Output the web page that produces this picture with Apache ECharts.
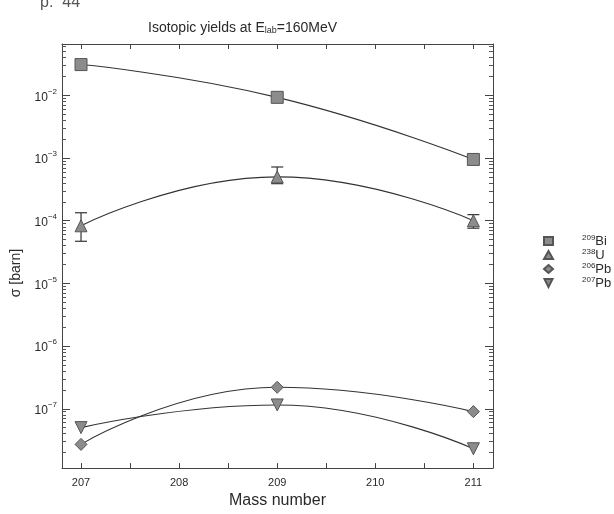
<!DOCTYPE html>
<html>
<head>
<meta charset="utf-8">
<script src="https://cdn.jsdelivr.net/npm/echarts@6/dist/echarts.min.js"></script>
<style>html,body{margin:0;padding:0;background:#fff}#c{width:614px;height:514px}</style>
</head>
<body>
<div id="c"></div>
<script>
// ---- data ----
const massNumbers = [207, 209, 211];
const bi209 = [0.031, 0.0093, 0.00095];
const u238 = [8.3e-5, 5.0e-4, 1.0e-4];
const u238Low = [4.7e-5, 3.9e-4, 7.6e-5];
const u238High = [1.34e-4, 7.2e-4, 1.25e-4];
const pb206 = [2.7e-8, 2.2e-7, 9.0e-8];
const pb207 = [5.0e-8, 1.15e-7, 2.3e-8];
const xTickValues = [207, 207.5, 208, 208.5, 209, 209.5, 210, 210.5, 211];
const xLabelValues = [207, 208, 209, 210, 211];
const decadeExponents = [-8, -7, -6, -5, -4, -3, -2, -1];
const minorMultipliers = [2, 3, 4, 5, 6, 7, 8, 9];
const seriesNames = ['209Bi', '238U', '206Pb', '207Pb'];
const legendParts = {'209Bi': ['209', 'Bi'], '238U': ['238', 'U'], '206Pb': ['206', 'Pb'], '207Pb': ['207', 'Pb']};

const Y_MIN = 1.13e-8, Y_MAX = 0.066;
const LMIN = Math.log10(Y_MIN), LMAX = Math.log10(Y_MAX);
const majorLog = decadeExponents.filter(e => e >= LMIN && e <= LMAX);
const minorLog = [];
decadeExponents.forEach(e => minorMultipliers.forEach(m => {
  const v = e + Math.log10(m);
  if (v >= LMIN && v <= LMAX) minorLog.push(v);
}));

const FONT = 'Liberation Sans';
const INK = '#2a2a2a';
const LINE = '#333';
const MARK_FILL = '#8c8c8c';
const MARK_BORDER = '#555';

function pair(xs, ys) { return xs.map((x, i) => [x, ys[i]]); }

const chart = echarts.init(document.getElementById('c'), null, {renderer: 'canvas'});

const frameLine = {show: true, lineStyle: {color: '#444', width: 1}};

const option = {
  backgroundColor: '#fff',
  animation: false,
  textStyle: {fontFamily: FONT},
  title: {
    text: '{a|Isotopic yields at E}{b|lab}{a|=160MeV}',
    left: 143, top: 14,
    textStyle: {
      fontWeight: 'normal',
      rich: {
        a: {fontFamily: FONT, fontSize: 14, fontWeight: 'normal', color: INK, lineHeight: 16, verticalAlign: 'bottom'},
        b: {fontFamily: FONT, fontSize: 9, fontWeight: 'normal', color: INK, lineHeight: 12, verticalAlign: 'bottom', padding: [6, 0, 0, 0]}
      }
    }
  },
  graphic: [{
    type: 'text', left: 40, top: -5,
    style: {text: 'p.  44', fontFamily: FONT, fontSize: 16, fill: '#555'}
  }],
  grid: {left: 62, right: 121, top: 44, bottom: 41},
  legend: {
    orient: 'vertical', left: 543, top: 234,
    itemWidth: 9, itemHeight: 8, itemGap: 0, padding: 0,
    data: [
      {name: '209Bi', icon: 'rect'},
      {name: '238U', icon: 'triangle'},
      {name: '206Pb', icon: 'diamond'},
      {name: '207Pb', icon: 'path://M0,0 L10,0 L5,10 Z'}
    ],
    formatter: function (name) {
      const p = legendParts[name];
      return '{s|' + p[0] + '}{m|' + p[1] + '}';
    },
    textStyle: {
      rich: {
        s: {fontFamily: FONT, fontSize: 8, color: INK, lineHeight: 14, verticalAlign: 'top', padding: [0, 0, 0, 24]},
        m: {fontFamily: FONT, fontSize: 13, color: INK, lineHeight: 14, verticalAlign: 'bottom'}
      }
    }
  },
  xAxis: [{
    type: 'value', position: 'bottom', min: 206.806, max: 211.2,
    axisLine: frameLine,
    splitLine: {show: false},
    axisTick: {show: true, inside: true, length: 5, customValues: xTickValues, lineStyle: {color: '#444'}},
    axisLabel: {show: true, customValues: xLabelValues, margin: 9, fontFamily: FONT, fontSize: 11, color: INK},
    name: 'Mass number', nameLocation: 'middle', nameGap: 20,
    nameTextStyle: {fontFamily: FONT, fontSize: 16, color: INK}
  }, {
    type: 'value', position: 'top', min: 206.806, max: 211.2,
    axisLine: frameLine,
    splitLine: {show: false},
    axisTick: {show: true, inside: true, length: 5, customValues: xTickValues, lineStyle: {color: '#444'}},
    axisLabel: {show: false}
  }],
  yAxis: [{
    type: 'log', logBase: 10, position: 'left', min: Y_MIN, max: Y_MAX, splitNumber: 7,
    axisLine: frameLine,
    splitLine: {show: false},
    axisTick: {show: true, inside: true, length: 8, lineStyle: {color: '#444'}},
    axisLabel: {
      show: true, margin: 5, showMinLabel: false, showMaxLabel: false,
      formatter: function (v) {
        const e = Math.round(Math.log10(v));
        return '{b|10}{s|' + (e < 0 ? '\u2212' + (-e) : e) + '}';
      },
      rich: {
        b: {fontFamily: FONT, fontSize: 12, color: INK, lineHeight: 16, verticalAlign: 'bottom'},
        s: {fontFamily: FONT, fontSize: 8, color: INK, lineHeight: 16, verticalAlign: 'top'}
      }
    },
    name: '\u03c3 [barn]', nameLocation: 'middle', nameGap: 36,
    nameTextStyle: {fontFamily: FONT, fontSize: 14, color: INK, padding: [0, 34, 0, 0]}
  }, {
    type: 'value', position: 'right', min: LMIN, max: LMAX,
    axisLine: frameLine,
    splitLine: {show: false},
    axisTick: {show: true, inside: true, length: 8, customValues: majorLog, lineStyle: {color: '#444'}},
    axisLabel: {show: false}
  }, {
    type: 'value', position: 'left', min: LMIN, max: LMAX,
    axisLine: {show: false},
    splitLine: {show: false},
    axisTick: {show: true, inside: true, length: 4, customValues: minorLog, lineStyle: {color: '#555'}},
    axisLabel: {show: false}
  }, {
    type: 'value', position: 'right', min: LMIN, max: LMAX,
    axisLine: {show: false},
    splitLine: {show: false},
    axisTick: {show: true, inside: true, length: 4, customValues: minorLog, lineStyle: {color: '#555'}},
    axisLabel: {show: false}
  }],
  series: [
    {
      name: '209Bi', type: 'line', smooth: 0.5, data: pair(massNumbers, bi209),
      symbol: 'rect', symbolSize: 12,
      lineStyle: {color: LINE, width: 1.1},
      itemStyle: {color: MARK_FILL, borderColor: MARK_BORDER, borderWidth: 1}, z: 3
    },
    {
      name: '238U', type: 'line', smooth: 0.5, data: pair(massNumbers, u238),
      symbol: 'triangle', symbolSize: 12,
      lineStyle: {color: LINE, width: 1.1},
      itemStyle: {color: MARK_FILL, borderColor: MARK_BORDER, borderWidth: 1}, z: 3
    },
    {
      name: '238U err', type: 'custom',
      data: massNumbers.map((x, i) => [x, u238Low[i], u238High[i]]),
      encode: {x: 0, y: [1, 2]},
      renderItem: function (params, api) {
        const x = api.value(0);
        const lo = api.coord([x, api.value(1)]);
        const hi = api.coord([x, api.value(2)]);
        const w = 6;
        const st = {stroke: '#333', lineWidth: 1.2};
        return {
          type: 'group',
          children: [
            {type: 'line', shape: {x1: lo[0], y1: lo[1], x2: hi[0], y2: hi[1]}, style: st},
            {type: 'line', shape: {x1: lo[0] - w, y1: lo[1], x2: lo[0] + w, y2: lo[1]}, style: st},
            {type: 'line', shape: {x1: hi[0] - w, y1: hi[1], x2: hi[0] + w, y2: hi[1]}, style: st}
          ]
        };
      },
      z: 2
    },
    {
      name: '206Pb', type: 'line', smooth: 0.5, data: pair(massNumbers, pb206),
      symbol: 'diamond', symbolSize: 12,
      lineStyle: {color: LINE, width: 1.1},
      itemStyle: {color: MARK_FILL, borderColor: MARK_BORDER, borderWidth: 1}, z: 3
    },
    {
      name: '207Pb', type: 'line', smooth: 0.5, data: pair(massNumbers, pb207),
      symbol: 'path://M0,0 L10,0 L5,10 Z', symbolSize: 12,
      lineStyle: {color: LINE, width: 1.1},
      itemStyle: {color: MARK_FILL, borderColor: MARK_BORDER, borderWidth: 1}, z: 3
    }
  ]
};
chart.setOption(option);
</script>
</body>
</html>
